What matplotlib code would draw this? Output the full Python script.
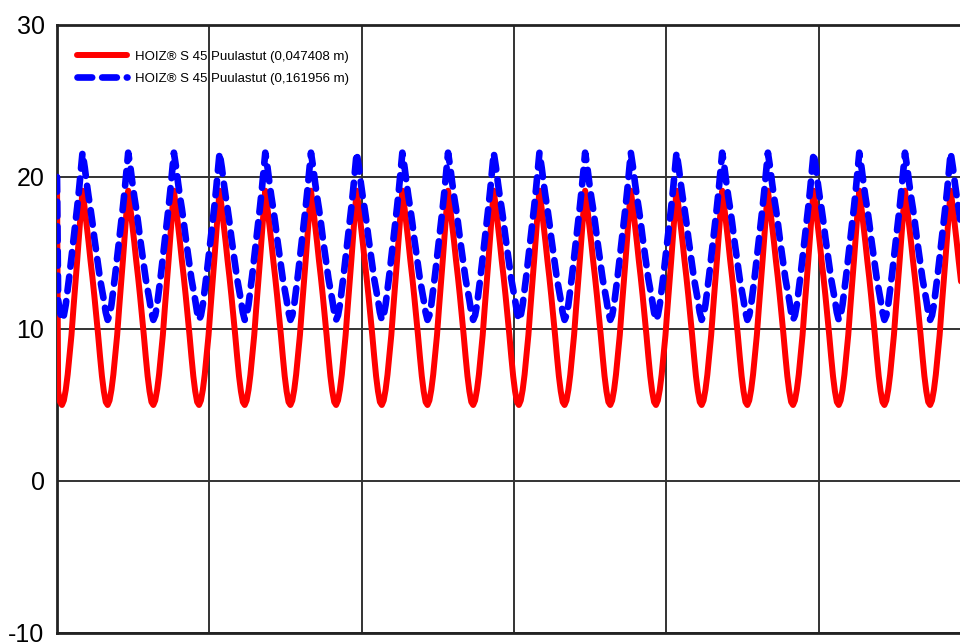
import numpy as np
import matplotlib.pyplot as plt

plt.rcParams['font.family'] = ['Liberation Sans', 'DejaVu Sans']
plt.rcParams['axes.unicode_minus'] = False

# one daily cycle (hours after the trough)
phase_h = [0, 1, 2, 3, 4, 5, 6, 7, 8, 9, 10, 10.8, 12, 13, 14, 15, 16, 17, 18, 19, 20, 21, 22, 23]
red_cycle = [5.0, 5.3, 6.0, 7.0, 8.3, 9.6, 11.3, 12.9, 14.5, 16.2, 17.9, 19.1,
             17.9, 16.8, 15.7, 14.5, 13.4, 12.2, 10.9, 9.6, 8.2, 6.9, 5.9, 5.2]
blue_cycle = [10.6, 10.9, 11.6, 12.6, 13.6, 14.7, 15.8, 16.9, 18.0, 19.2, 20.5, 21.6,
              20.6, 19.6, 18.7, 17.9, 17.0, 16.0, 15.1, 14.2, 13.3, 12.6, 11.9, 11.1]
start_value = 20.0
first_trough_h = 2.6
period_h = 24
n_cycles = 21

labels = ["HOIZ® S 45 Puulastut (0,047408 m)", "HOIZ® S 45 Puulastut (0,161956 m)"]
y_ticks = [-10, 0, 10, 20, 30]
x_grid = [80, 160, 240, 320, 400]

# repeat the measured cycle over the whole period shown
offsets = first_trough_h + period_h * np.arange(-1, n_cycles - 1)
t = (offsets[:, None] + np.array(phase_h)[None, :]).ravel()
red = np.tile(red_cycle, n_cycles)
blue = np.tile(blue_cycle, n_cycles)
keep = t > 0
t = np.concatenate([[0], t[keep]])
red = np.concatenate([[start_value], red[keep]])
blue = np.concatenate([[start_value], blue[keep]])

fig = plt.figure(figsize=(9.6, 6.44), dpi=100)
ax = fig.add_axes([57 / 960, 11 / 644, 1 - 57 / 960, 608 / 644])

ax.plot(t, red, color='red', lw=4.3, solid_capstyle='round', label=labels[0], zorder=3)
ax.plot(t, blue, color='blue', lw=4.8, dashes=(2.2, 1.5), dash_capstyle='round',
        label=labels[1], zorder=4)

ax.set_xlim(0, 474.3)
ax.set_ylim(-10, 30)
ax.set_yticks(y_ticks)
ax.set_xticks(x_grid)
ax.tick_params(length=0, labelbottom=False, labelsize=18, pad=9)
ax.grid(True, color='#333333', lw=1.4)
ax.set_axisbelow(True)

for side in ['left', 'bottom', 'top']:
    ax.spines[side].set_linewidth(2)
    ax.spines[side].set_color('#222222')
ax.spines['right'].set_visible(False)

leg = ax.legend(loc='upper left', frameon=False, fontsize=9.5, handlelength=3.8,
                handletextpad=0.6, labelspacing=0.75, borderaxespad=0,
                bbox_to_anchor=(0.0163, 0.967))

plt.savefig('out.png', dpi=100)
